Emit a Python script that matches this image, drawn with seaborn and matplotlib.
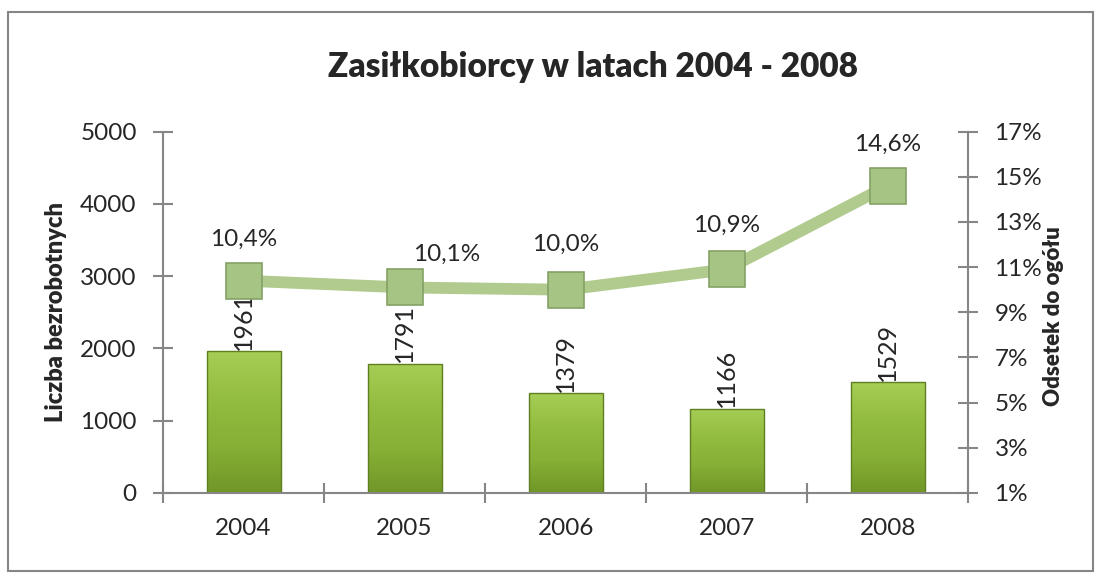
import numpy as np
import pandas as pd
import matplotlib
matplotlib.use("Agg")
import matplotlib.pyplot as plt
from matplotlib.patches import Rectangle
from matplotlib.colors import LinearSegmentedColormap
import seaborn as sns

# data
years = ["2004", "2005", "2006", "2007", "2008"]
unemployed = [1961, 1791, 1379, 1166, 1529]
share_pct = [10.4, 10.1, 10.0, 10.9, 14.6]
pct_labels = ["10,4%", "10,1%", "10,0%", "10,9%", "14,6%"]

left_ticks = [0, 1000, 2000, 3000, 4000, 5000]
right_ticks = [1, 3, 5, 7, 9, 11, 13, 15, 17]

df = pd.DataFrame({"rok": years, "liczba": unemployed, "odsetek": share_pct})

sns.set_theme(style="white")
plt.rcParams["font.family"] = ["Lato", "DejaVu Sans"]

GRAY = "#868686"

fig = plt.figure(figsize=(11.02, 5.81), dpi=100)
ax = fig.add_axes([0.148, 0.1515, 0.7305, 0.622])

# bars
sns.barplot(data=df, x="rok", y="liczba", ax=ax, color="#84ad35",
            width=0.46, edgecolor="#5f7f20", linewidth=1.0, zorder=2)

# gradient fill on each bar
grad = LinearSegmentedColormap.from_list("g", ["#719728", "#86b036", "#93bd40", "#a6cd55"])
for p in ax.patches:
    x0, y0 = p.get_x(), p.get_y()
    w, h = p.get_width(), p.get_height()
    img = ax.imshow(np.linspace(0, 1, 100).reshape(-1, 1), cmap=grad,
                    extent=[x0, x0 + w, y0, y0 + h], origin="lower",
                    aspect="auto", zorder=2.1)
    img.set_clip_path(p)
    p.set_facecolor("none")
    p.set_zorder(2.2)

ax.bar_label(ax.containers[0], labels=[str(v) for v in unemployed],
             rotation=90, padding=1, fontsize=18)

ax.set_ylim(0, 5000)
ax.set_xlim(-0.5, len(years) - 0.5)
ax.set_yticks(left_ticks)
ax.set_yticklabels([str(t) for t in left_ticks], fontsize=17.5)
ax.set_xticks(np.arange(-0.5, len(years), 1.0))
ax.set_xticklabels([])
ax.set_xticks(np.arange(len(years)), minor=True)
ax.set_xticklabels(years, minor=True, fontsize=17.5)
ax.tick_params(axis="x", which="major", direction="inout", length=14,
               width=1.5, color=GRAY, bottom=True)
ax.tick_params(axis="x", which="minor", length=0, pad=18, bottom=True)
ax.tick_params(axis="y", direction="inout", length=14, width=1.5,
               color=GRAY, left=True, pad=12)
ax.set_xlabel("")
ax.set_ylabel("")
for s in ["top", "right"]:
    ax.spines[s].set_visible(False)
for s in ["left", "bottom"]:
    ax.spines[s].set_color(GRAY)
    ax.spines[s].set_linewidth(1.5)

# line on secondary axis
ax2 = ax.twinx()
sns.pointplot(data=df, x="rok", y="odsetek", ax=ax2, color="#b1cb8f",
              markers="s", markersize=26, linewidth=8.5, errorbar=None,
              markeredgecolor="#84a266", markeredgewidth=1.2,
              markerfacecolor="#a6c585")
ax2.set_xlim(-0.5, len(years) - 0.5)
ax2.set_ylim(1, 17)
ax2.set_yticks(right_ticks)
ax2.set_yticklabels([f"{t}%" for t in right_ticks], fontsize=17.5)
ax2.tick_params(axis="y", direction="inout", length=14, width=1.5,
                color=GRAY, right=True, pad=12)
ax2.set_xlabel("")
ax2.set_ylabel("")
for s in ["top", "left", "bottom"]:
    ax2.spines[s].set_visible(False)
ax2.spines["right"].set_color(GRAY)
ax2.spines["right"].set_linewidth(1.5)

label_offsets = [(0, 30), (30, 24), (0, 33), (0, 32), (0, 30)]
for i, (v, t) in enumerate(zip(share_pct, pct_labels)):
    ax2.annotate(t, (i, v), xytext=label_offsets[i], textcoords="offset points",
                 ha="center", va="center", fontsize=17.5)

fig.text(0.538, 1 - 67 / 581, "Zasiłkobiorcy w latach 2004 - 2008",
         ha="center", va="center", fontsize=24, fontweight="heavy")
fig.text(56 / 1102, 1 - 312 / 581, "Liczba bezrobotnych", rotation=90,
         ha="center", va="center", fontsize=17, fontweight="heavy")
fig.text(1053 / 1102, 1 - 316 / 581, "Odsetek do ogółu", rotation=90,
         ha="center", va="center", fontsize=16, fontweight="heavy")

fig.add_artist(Rectangle((8 / 1102, 1 - 571 / 581), 1085 / 1102, 559 / 581,
                         transform=fig.transFigure, fill=False,
                         edgecolor=GRAY, linewidth=1.5))

fig.savefig("out.png", dpi=100)
